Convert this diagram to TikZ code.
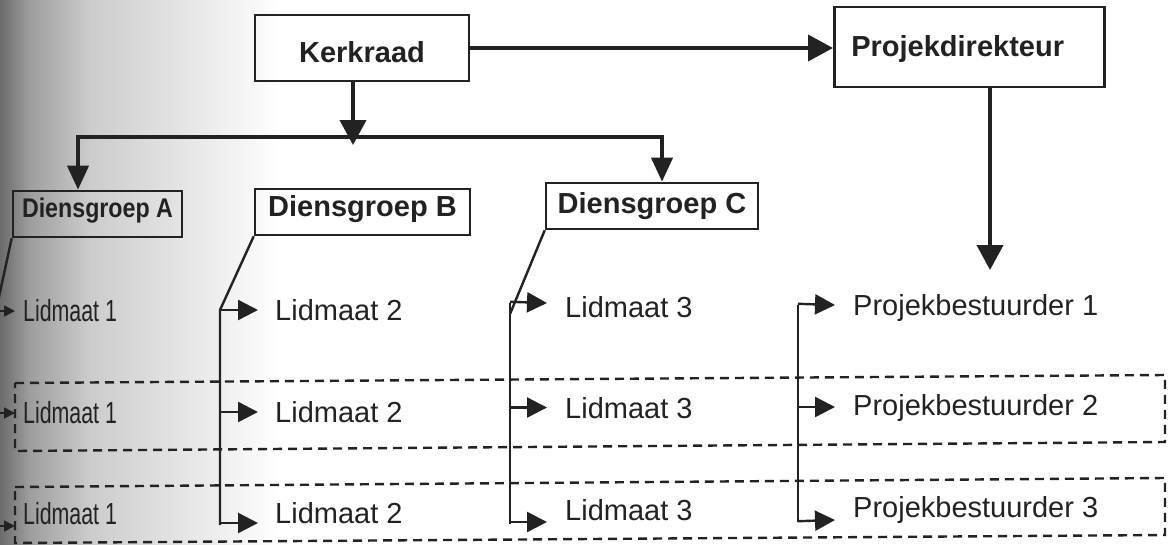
\documentclass[tikz,border=0pt]{standalone}
\usepackage{fontspec}
\setmainfont{Liberation Sans}
\usepackage{graphicx}
\usetikzlibrary{arrows.meta}
\definecolor{ink}{HTML}{222222}
\begin{document}
\begin{tikzpicture}[x=1pt,y=-1pt,
  box/.style={draw=ink,line width=2.6pt,inner sep=0pt,text=ink,font=\fontsize{29}{34}\selectfont\bfseries},
  member/.style={anchor=base west,inner sep=0pt,text=ink,text height=21pt,text depth=0pt,font=\fontsize{29}{34}\selectfont},
  narrowmember/.style={member,font=\fontsize{30.5}{36}\selectfont},
  mainarrow/.style={draw=ink,line width=4pt,-{Triangle[length=25pt,width=26pt]}},
  brancharrow/.style={draw=ink,line width=4pt,-{Triangle[length=24pt,width=21pt]}},
  trunk/.style={draw=ink,line width=2.4pt},
  subarrow/.style={draw=ink,line width=2.4pt,-{Triangle[length=20pt,width=20pt]}},
  smallarrow/.style={draw=ink,line width=1.8pt,-{Triangle[length=11pt,width=11pt]}},
  grouping/.style={draw=ink,line width=2.4pt,dash pattern=on 9pt off 6pt}]
\useasboundingbox (0,0) rectangle (1174,544);
\clip (0,0) rectangle (1174,544);
% scanned page shading at the left
\shade[left color=black!58,right color=black!38] (0,0) rectangle (30,544);
\shade[left color=black!38,right color=black!20] (30,0) rectangle (90,544);
\shade[left color=black!20,right color=white] (90,0) rectangle (280,544);

% dashed groups
\draw[grouping] (15,383) -- (1165,375) -- (1165,442) -- (15,451) -- cycle;
\draw[grouping] (15,487) -- (1165,478) -- (1165,535) -- (15,543) -- cycle;

% boxes
\node[box,minimum width=214pt,minimum height=66pt,text height=30pt,text depth=1pt] (kr) at (362,48) {Kerkraad};
\node[box,anchor=west,minimum height=80pt,inner xsep=17pt,text width=236pt,align=left,text height=21pt,text depth=2pt] (pd) at (833,47) {Projekdirekteur};
\node[box,font=\fontsize{27}{32}\selectfont\bfseries,minimum width=169pt,minimum height=46pt,text height=13pt,text depth=6pt] (dA) at (97.5,214) {\scalebox{0.86}[1]{Diensgroep A}};
\node[box,minimum width=215pt,minimum height=46pt,text height=15pt,text depth=6pt] (dB) at (362.5,212) {Diensgroep B};
\node[box,minimum width=212pt,minimum height=46pt,text height=20pt,text depth=6pt] (dC) at (652,206) {Diensgroep C};

% members
\node[narrowmember] (m11) at (23,321) {\scalebox{0.70}[1]{Lidmaat 1}};
\node[narrowmember] (m12) at (23,423) {\scalebox{0.70}[1]{Lidmaat 1}};
\node[narrowmember] (m13) at (23,524) {\scalebox{0.70}[1]{Lidmaat 1}};
\node[member] (m21) at (275,320) {Lidmaat 2};
\node[member] (m22) at (275,422) {Lidmaat 2};
\node[member] (m23) at (275,523) {Lidmaat 2};
\node[member] (m31) at (565,317) {Lidmaat 3};
\node[member] (m32) at (565,418) {Lidmaat 3};
\node[member] (m33) at (565,520) {Lidmaat 3};
\node[member] (m41) at (853,315) {Projekbestuurder 1};
\node[member] (m42) at (853,415) {Projekbestuurder 2};
\node[member] (m43) at (853,517) {Projekbestuurder 3};

% top connectors
\coordinate (krtip) at (353,145);
\coordinate (hmid) at (353,137);
\coordinate (pdtip) at (990,270);
\draw[mainarrow] (kr.south -| krtip) -- (krtip);
\draw[mainarrow] (kr.east) -- (kr.east -| pd.west);
\draw[mainarrow] (pd.south -| pdtip) -- (pdtip);
\draw[brancharrow] (hmid) -| ([xshift=-19.5pt]dA.north);
\draw[brancharrow] (hmid) -| ([xshift=10pt]dC.north);

% column 1
\coordinate (t1top) at (-3,306);
\coordinate (t1bot) at (-3,527);
\draw[trunk] (dA.south west) -- (t1top) -- (t1bot);
\coordinate (a11) at ([shift={(-8,0.5)}]m11.west);
\coordinate (a12) at ([shift={(-8,0.5)}]m12.west);
\coordinate (a13) at ([shift={(-8,12.5)}]m13.west);
\draw[smallarrow] (a11 -| t1top) -- (a11);
\draw[smallarrow] (a12 -| t1top) -- (a12);
\draw[smallarrow] (a13 -| t1top) -- (a13);

% column 2
\coordinate (t2top) at (220,310);
\coordinate (t2bot) at (220,525);
\draw[trunk] (dB.south west) -- (t2top) -- (t2bot);
\coordinate (a21) at ([shift={(-17,0.5)}]m21.west);
\coordinate (a22) at ([shift={(-17,0.5)}]m22.west);
\coordinate (a23) at ([shift={(-17,10.5)}]m23.west);
\draw[subarrow] (a21 -| t2top) -- (a21);
\draw[subarrow] (a22 -| t2top) -- (a22);
\draw[subarrow] (a23 -| t2top) -- (a23);

% column 3
\coordinate (t3top) at (510,303);
\coordinate (t3join) at (510,314);
\coordinate (t3bot) at (510,524);
\draw[trunk] (dC.south west) -- (t3join);
\draw[trunk] (t3top) -- (t3bot);
\coordinate (a31) at ([shift={(-18,-3.5)}]m31.west);
\coordinate (a32) at ([shift={(-18,0)}]m32.west);
\coordinate (a33) at ([shift={(-18,12.5)}]m33.west);
\draw[subarrow] ([yshift=1.2pt]a31 -| t3top) -- (a31);
\draw[subarrow] (a32 -| t3top) -- (a32);
\draw[subarrow] (a33 -| t3top) -- (a33);

% column 4
\coordinate (t4top) at (798,305);
\coordinate (t4bot) at (798,522);
\draw[trunk] (t4top) -- (t4bot);
\coordinate (a41) at ([shift={(-18,0.5)}]m41.west);
\coordinate (a42) at ([shift={(-18,2.5)}]m42.west);
\coordinate (a43) at ([shift={(-18,13.5)}]m43.west);
\draw[subarrow] ([yshift=1.2pt]a41 -| t4top) -- (a41);
\draw[subarrow] (a42 -| t4top) -- (a42);
\draw[subarrow] ([yshift=-1.2pt]a43 -| t4top) -- (a43);
\end{tikzpicture}
\end{document}
